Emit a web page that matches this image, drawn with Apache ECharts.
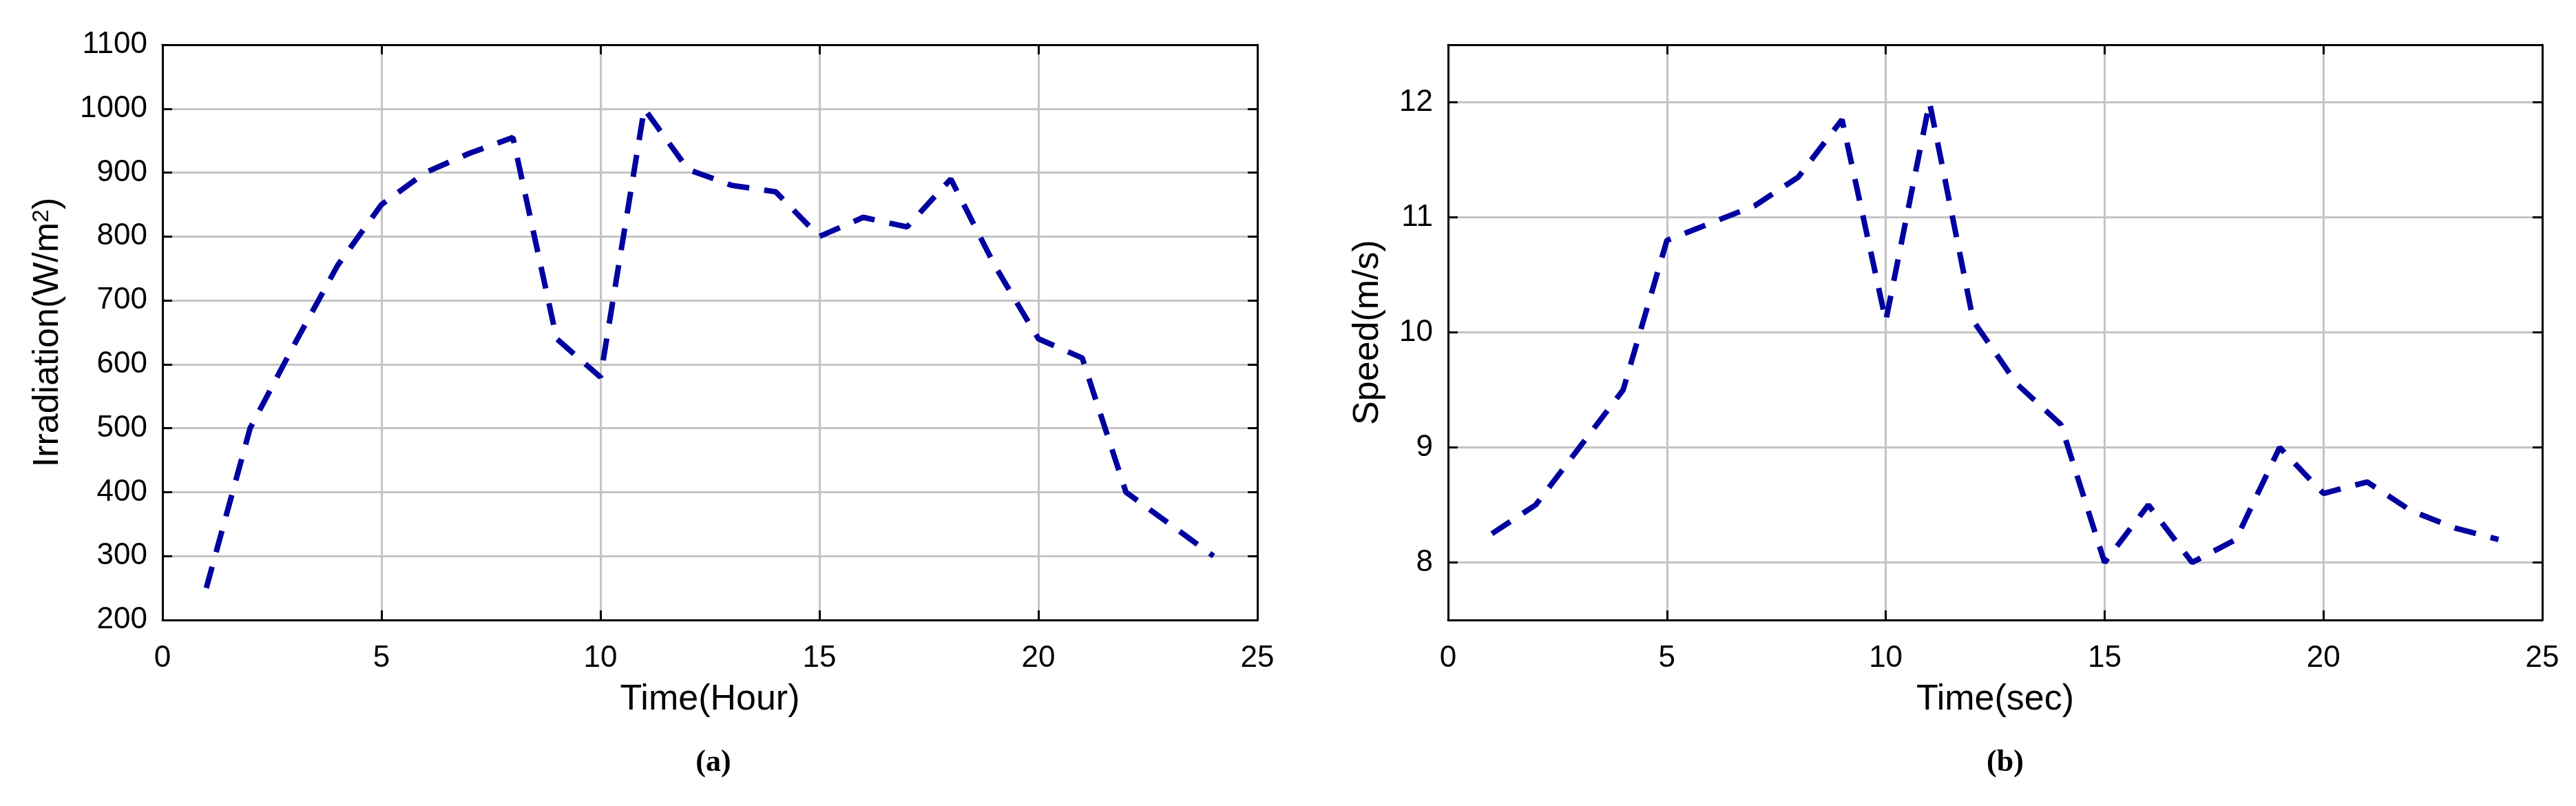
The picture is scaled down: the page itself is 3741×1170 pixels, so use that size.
<!DOCTYPE html>
<html><head><meta charset="utf-8">
<script src="https://cdn.jsdelivr.net/npm/echarts@6/dist/echarts.min.js"></script>
<style>html,body{margin:0;padding:0;background:#fff}#c{width:3741px;height:1170px}</style>
</head><body><div id="c"></div>
<script>
// ---- data ----
const hours = [1,2,3,4,5,6,7,8,9,10,11,12,13,14,15,16,17,18,19,20,21,22,23,24];
const irradiation = [250,500,630,755,850,900,930,955,640,580,1000,905,880,870,800,830,815,890,755,640,610,400,350,300];
const seconds = [1,2,3,4,5,6,7,8,9,10,11,12,13,14,15,16,17,18,19,20,21,22,23,24];
const speed = [8.25,8.5,9.0,9.5,10.8,10.95,11.1,11.35,11.85,10.1,12.0,10.1,9.55,9.2,8.0,8.5,8.0,8.2,9.0,8.6,8.7,8.45,8.3,8.2];
const speedTicks = [8,9,10,11,12];
const panelLabels = ['(a)', '(b)'];

const FONT = 'Liberation Sans';
const AX = '#000';
const GRIDC = '#c4c4c4';
const plain = v => String(v);

function xAxis(gridIndex, pos, name) {
  const bottom = pos === 'bottom';
  return {
    type: 'value', gridIndex, position: pos, min: 0, max: 25, interval: 5,
    axisLine: { show: true, onZero: false, lineStyle: { color: AX, width: 3 } },
    axisTick: { show: true, inside: true, length: 14, lineStyle: { color: AX, width: 3 } },
    axisLabel: { show: bottom, margin: 34, fontSize: 44, color: '#000', fontFamily: FONT, formatter: plain },
    splitLine: { show: bottom, lineStyle: { color: GRIDC, width: 3 } },
    name: bottom ? name : '', nameLocation: 'middle', nameGap: 90,
    nameTextStyle: { fontSize: 52, color: '#000', fontFamily: FONT }
  };
}
function yAxis(gridIndex, pos, min, max, interval, name, custom, rich) {
  const left = pos === 'left';
  const ax = {
    type: 'value', gridIndex, position: pos, min, max,
    axisLine: { show: true, onZero: false, lineStyle: { color: AX, width: 3 } },
    axisTick: { show: true, inside: true, length: 14, lineStyle: { color: AX, width: 3 } },
    axisLabel: { show: left, margin: 22, fontSize: 44, color: '#000', fontFamily: FONT, formatter: plain },
    splitLine: { show: left, lineStyle: { color: GRIDC, width: 3 } },
    name: left ? name : '', nameLocation: 'middle', nameGap: gridIndex === 0 ? 140 : 90,
    nameTextStyle: { fontSize: 52, color: '#000', fontFamily: FONT, rich: rich || {} }
  };
  if (custom) {
    ax.axisTick.customValues = custom;
    ax.axisLabel.customValues = custom;
  } else {
    ax.interval = interval;
  }
  return ax;
}

const supRich = { sup: { fontSize: 34, verticalAlign: 'top', padding: [0, 0, 8, 0], color: '#000', fontFamily: FONT } };

const option = {
  backgroundColor: '#fff',
  animation: false,
  grid: [
    { left: 236, top: 65, width: 1590, height: 835, outerBoundsMode: 'none', containLabel: false },
    { left: 2103, top: 65, width: 1589, height: 835, outerBoundsMode: 'none', containLabel: false }
  ],
  xAxis: [
    xAxis(0, 'bottom', 'Time(Hour)'),
    xAxis(0, 'top', ''),
    xAxis(1, 'bottom', 'Time(sec)'),
    xAxis(1, 'top', '')
  ],
  yAxis: [
    yAxis(0, 'left', 200, 1100, 100, 'Irradiation(W/m{sup|2})', null, supRich),
    yAxis(0, 'right', 200, 1100, 100, '', null),
    yAxis(1, 'left', 7.5, 12.5, null, 'Speed(m/s)', speedTicks),
    yAxis(1, 'right', 7.5, 12.5, null, '', speedTicks)
  ],
  graphic: [
    { type: 'text', x: 1036, y: 1086, style: { text: panelLabels[0], fontSize: 44, fontWeight: 'bold', fontFamily: 'Liberation Serif', fill: '#000', textAlign: 'center', textVerticalAlign: 'top' } },
    { type: 'text', x: 2912, y: 1086, style: { text: panelLabels[1], fontSize: 44, fontWeight: 'bold', fontFamily: 'Liberation Serif', fill: '#000', textAlign: 'center', textVerticalAlign: 'top' } }
  ],
  series: [
    { type: 'line', xAxisIndex: 0, yAxisIndex: 0, symbol: 'none', showSymbol: false,
      data: hours.map((h, i) => [h, irradiation[i]]),
      lineStyle: { color: '#0000a0', width: 8, type: [32, 22] } },
    { type: 'line', xAxisIndex: 2, yAxisIndex: 2, symbol: 'none', showSymbol: false,
      data: seconds.map((s, i) => [s, speed[i]]),
      lineStyle: { color: '#0000a0', width: 8, type: [32, 22] } }
  ]
};
const chart = echarts.init(document.getElementById('c'), null, { renderer: 'canvas' });
chart.setOption(option);
</script></body></html>
